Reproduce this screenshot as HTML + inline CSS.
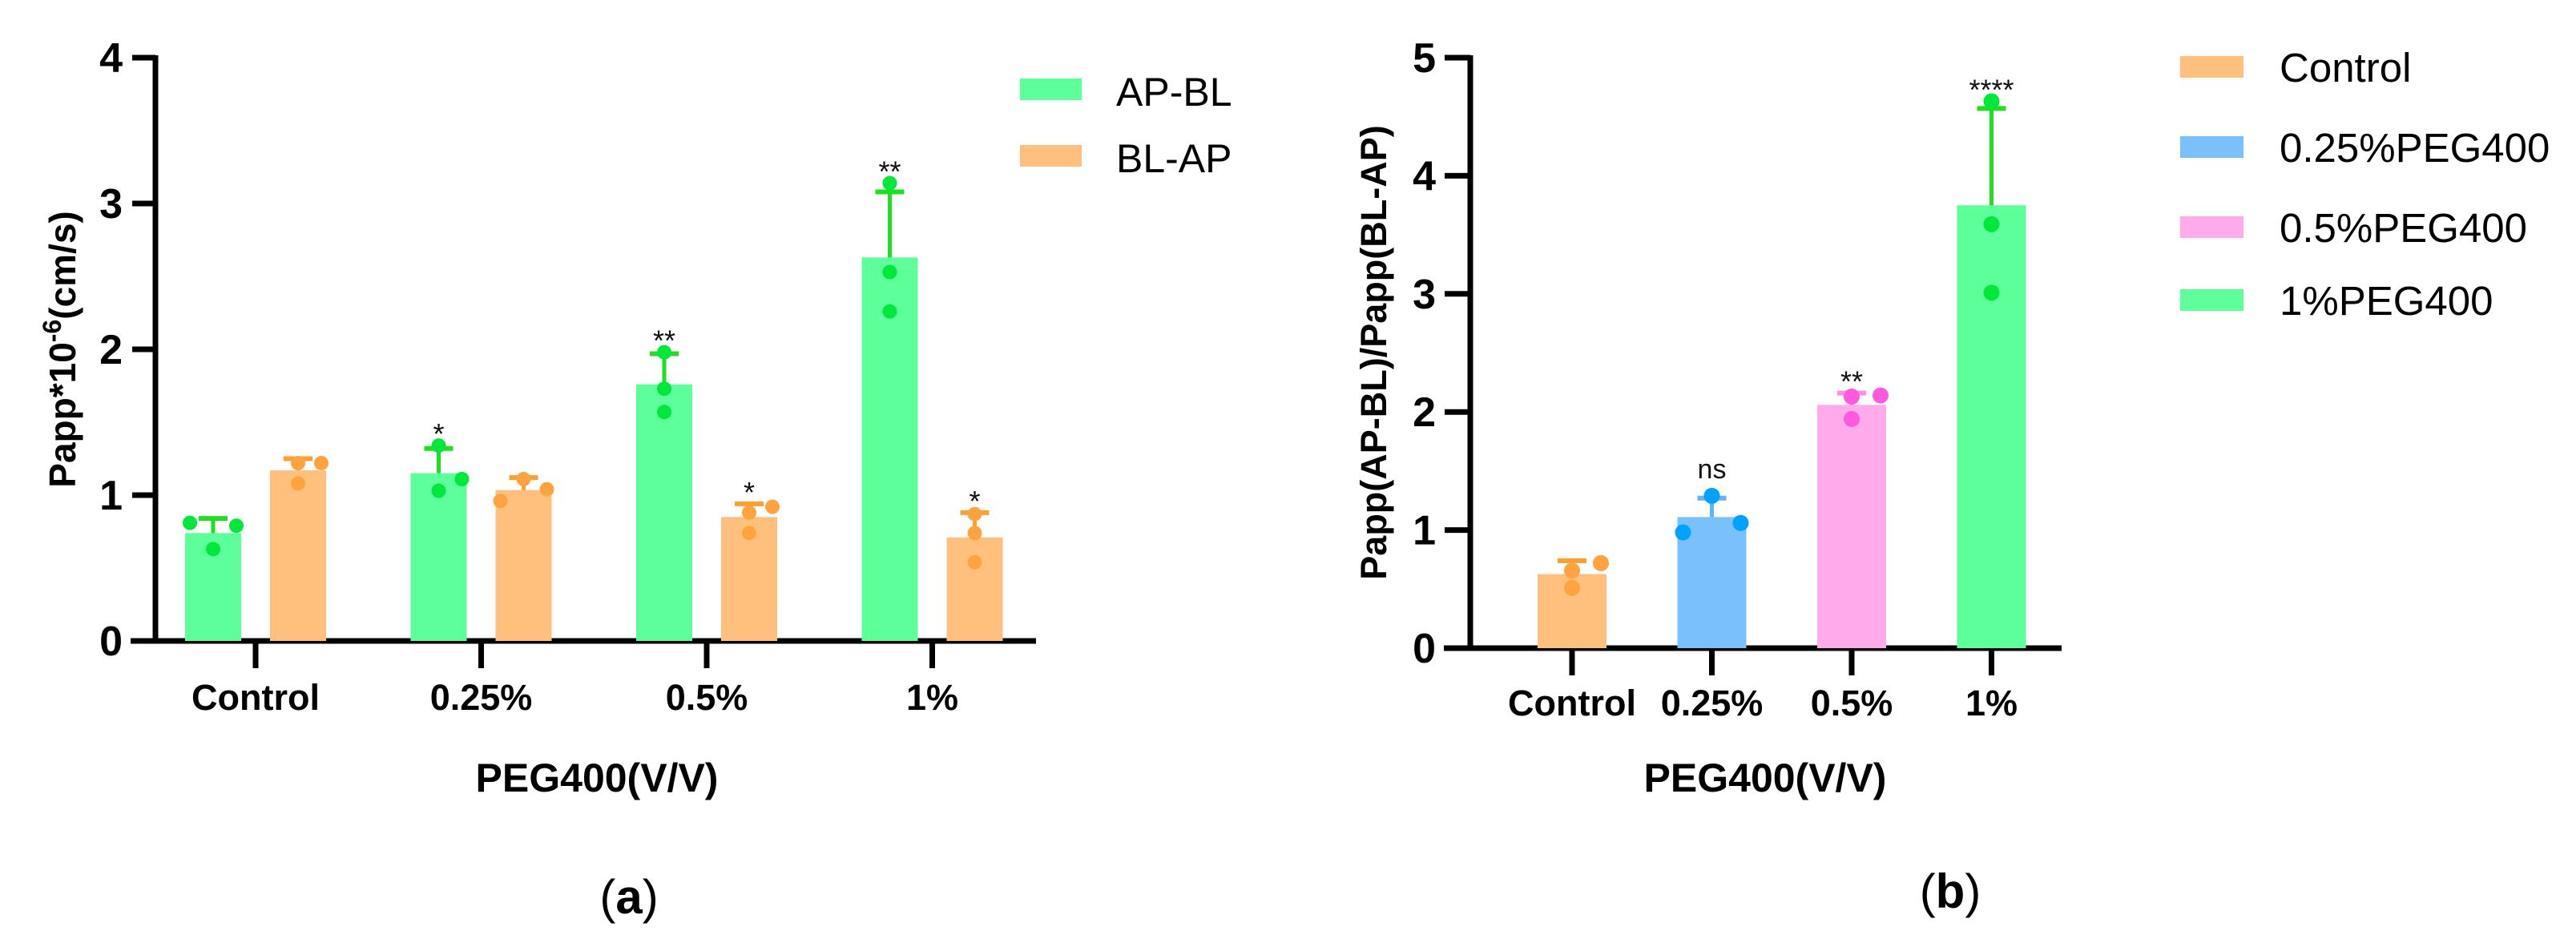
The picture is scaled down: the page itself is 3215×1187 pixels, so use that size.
<!DOCTYPE html>
<html><head><meta charset="utf-8"><style>
html,body{margin:0;padding:0;background:#fff;}
svg{display:block;}
text{font-family:"Liberation Sans",Arial,sans-serif;}
</style></head><body>
<svg id="fig" width="3215" height="1187" viewBox="0 0 3215 1187"></svg>
<script>
// ---------- Panel (a) data ----------
const catsA = ["Control","0.25%","0.5%","1%"];
const seriesA = ["AP-BL","BL-AP"];
const meanAPBL = [0.74,1.15,1.76,2.63];
const errAPBL  = [0.84,1.32,1.97,3.08];
const meanBLAP = [1.17,1.035,0.85,0.71];
const errBLAP  = [1.25,1.12,0.94,0.88];
const ptsAPBL = [[0.81,0.63,0.79],[1.34,1.03,1.11],[1.98,1.73,1.57],[3.14,2.53,2.26]];
const ptsBLAP = [[1.22,1.08,1.22],[0.96,1.11,1.04],[0.88,0.74,0.92],[0.87,0.74,0.54]];
const sigAPBL = ["","*","**","**"];
const sigBLAP = ["","","*","*"];
const ticksA = [0,1,2,3,4];
// ---------- Panel (b) data ----------
const catsB = ["Control","0.25%","0.5%","1%"];
const legendB = ["Control","0.25%PEG400","0.5%PEG400","1%PEG400"];
const meanB = [0.627,1.11,2.06,3.75];
const errB  = [0.74,1.27,2.16,4.57];
const ptsB  = [[0.656,0.51,0.72],[1.29,0.98,1.06],[2.13,1.94,2.14],[4.63,3.59,3.01]];
const sigB  = ["","ns","**","****"];
const ticksB = [0,1,2,3,4,5];

const NS="http://www.w3.org/2000/svg";
const svg=document.getElementById('fig');
function el(tag,attrs,parent,txt){const e=document.createElementNS(NS,tag);for(const k in attrs)e.setAttribute(k,attrs[k]);if(txt!==undefined)e.textContent=txt;(parent||svg).appendChild(e);return e;}

const GREEN_BAR="#5cff9a",GREEN_DOT="#00e83a",ORANGE_BAR="#ffc07e",ORANGE_DOT="#ffa340",BLUE_BAR="#7ac0fd",BLUE_DOT="#00a2ff",PINK_BAR="#ffaaea",PINK_DOT="#ff5ade";

const jitA1=[[-1,0,1],[0,0,1],[0,0,0],[0,0,0]];
const jitA2=[[0,0,1],[-1,0,1],[0,0,1],[0,0,0]];
const jitB=[[0,0,1],[0,-1,1],[0,0,1],[0,0,0]];

function drawBar(g,cx,w,v,e,pts,jit,jw,yS,barC,dotC,errC,r,sig,name){
  const y0=yS(0);
  let b=el('rect',{x:cx-w/2,y:yS(v),width:w,height:y0-yS(v),fill:barC},g);
  
  
  let l=el('line',{x1:cx,x2:cx,y1:yS(v),y2:yS(e),stroke:errC,'stroke-width':5},g);
  
  
  let c=el('line',{x1:cx-18,x2:cx+18,y1:yS(e),y2:yS(e),stroke:errC,'stroke-width':6},g);
  
  
  pts.forEach((p,i)=>{
    let d=el('circle',{cx:cx+jit[i]*jw,cy:yS(p),r:r,fill:dotC},g);
    
    
  });
  if(sig){
    const top=Math.max(e,...pts);
    let s=el('text',{x:cx,y:yS(top)-(sig==='ns'?22:2),'text-anchor':'middle','font-size':sig==='ns'?34:36,fill:'#111'},g,sig);
    
    
  }
}

// ===== Panel A =====
const gA=el('g',{});


const yA=v=>800-v*182;
const xA=i=>319+i*281.5;
let ax=el('line',{x1:194,x2:194,y1:69,y2:803,stroke:'#000','stroke-width':7},gA);

let xx=el('line',{x1:163,x2:1293,y1:800,y2:800,stroke:'#000','stroke-width':7},gA);

ticksA.forEach(t=>{
  el('line',{x1:165,x2:194,y1:yA(t),y2:yA(t),stroke:'#000','stroke-width':7},gA);
  let tl=el('text',{x:153,y:yA(t)+18,'text-anchor':'end','font-size':52,'font-weight':'bold'},gA,String(t));
  
});
catsA.forEach((c,i)=>{
  el('line',{x1:xA(i),x2:xA(i),y1:800,y2:834,stroke:'#000','stroke-width':7},gA);
  let tl=el('text',{x:xA(i),y:886,'text-anchor':'middle','font-size':45,'font-weight':'bold'},gA,c);
  
  drawBar(gA,xA(i)-53,70,meanAPBL[i],errAPBL[i],ptsAPBL[i],jitA1[i],29,yA,GREEN_BAR,GREEN_DOT,"#1fe01f",9,sigAPBL[i],'ap-bl-'+i);
  drawBar(gA,xA(i)+53,70,meanBLAP[i],errBLAP[i],ptsBLAP[i],jitA2[i],29,yA,ORANGE_BAR,ORANGE_DOT,"#ff9f2e",9,sigBLAP[i],'bl-ap-'+i);
});
let yt=el('text',{x:0,y:0,transform:'translate(94,436) rotate(-90)','text-anchor':'middle','font-size':46,'font-weight':'bold'},gA);

el('tspan',{},yt,'Papp*10');el('tspan',{dy:-18,'font-size':32},yt,'-6');el('tspan',{dy:18},yt,'(cm/s)');
let xt=el('text',{x:745,y:988,'text-anchor':'middle','font-size':50,'font-weight':'bold'},gA,'PEG400(V/V)');

[[GREEN_BAR,112],[ORANGE_BAR,195]].forEach((s,i)=>{
  let r=el('rect',{x:1273,y:s[1]-14,width:77,height:27,fill:s[0]},gA);
  
  let t=el('text',{x:1393,y:s[1]+20,'font-size':50},gA,seriesA[i]);
  
});
let capA=el('text',{x:785,y:1140,'text-anchor':'middle','font-size':60,'font-family':'"Liberation Serif",serif'},gA);

el('tspan',{},capA,'(');el('tspan',{'font-weight':'bold'},capA,'a');el('tspan',{},capA,')');

// ===== Panel B =====
const gB=el('g',{});


const yB=v=>809-v*147.4;
const xB=i=>1962+i*174.5;
let bx=el('line',{x1:1835,x2:1835,y1:69,y2:812,stroke:'#000','stroke-width':7},gB);

let bxx=el('line',{x1:1802,x2:2573,y1:809,y2:809,stroke:'#000','stroke-width':7},gB);

ticksB.forEach(t=>{
  el('line',{x1:1803,x2:1835,y1:yB(t),y2:yB(t),stroke:'#000','stroke-width':7},gB);
  let tl=el('text',{x:1792,y:yB(t)+18,'text-anchor':'end','font-size':52,'font-weight':'bold'},gB,String(t));
  
});
const barsB=[[ORANGE_BAR,ORANGE_DOT,"#ff9f2e"],[BLUE_BAR,BLUE_DOT,"#5db5ff"],[PINK_BAR,PINK_DOT,"#ff8ee6"],[GREEN_BAR,GREEN_DOT,"#1fe01f"]];
catsB.forEach((c,i)=>{
  el('line',{x1:xB(i),x2:xB(i),y1:809,y2:843,stroke:'#000','stroke-width':7},gB);
  let tl=el('text',{x:xB(i),y:893,'text-anchor':'middle','font-size':45,'font-weight':'bold'},gB,c);
  
  drawBar(gB,xB(i),86,meanB[i],errB[i],ptsB[i],jitB[i],36,yB,barsB[i][0],barsB[i][1],barsB[i][2],10,sigB[i],'ratio-'+i);
});
let yt2=el('text',{x:0,y:0,transform:'translate(1730,440) rotate(-90)','text-anchor':'middle','font-size':45,'font-weight':'bold'},gB,'Papp(AP-BL)/Papp(BL-AP)');

let xt2=el('text',{x:2203,y:988,'text-anchor':'middle','font-size':50,'font-weight':'bold'},gB,'PEG400(V/V)');

const legY=[84,184,284,375];
legendB.forEach((s,i)=>{
  let r=el('rect',{x:2721,y:legY[i]-14,width:79,height:27,fill:barsB[i][0]},gB);
  
  let t=el('text',{x:2845,y:legY[i]+18,'font-size':51},gB,s);
  
});
let capB=el('text',{x:2434,y:1133,'text-anchor':'middle','font-size':60,'font-family':'"Liberation Serif",serif'},gB);

el('tspan',{},capB,'(');el('tspan',{'font-weight':'bold'},capB,'b');el('tspan',{},capB,')');
</script>
</body></html>
